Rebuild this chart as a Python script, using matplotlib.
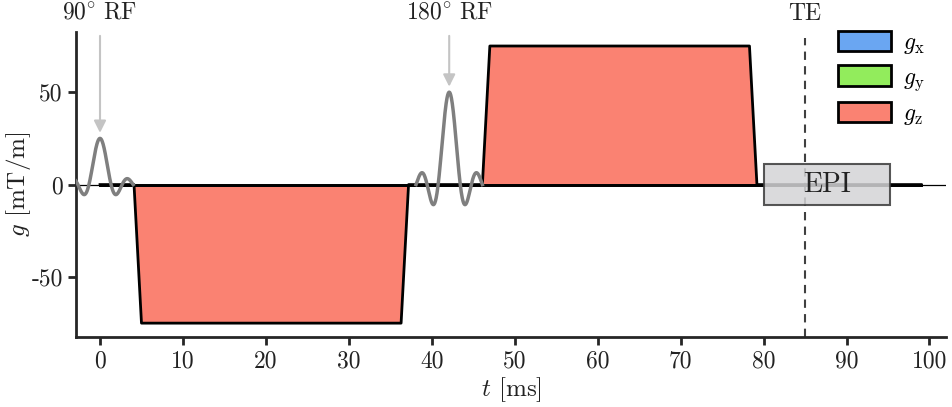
import matplotlib
matplotlib.use("Agg")
import matplotlib.pyplot as plt
from matplotlib.patches import Patch, Rectangle
import numpy as np

plt.rcParams["font.family"] = "cmr10"
plt.rcParams["mathtext.fontset"] = "cm"
plt.rcParams["axes.unicode_minus"] = False
plt.rcParams["axes.formatter.use_mathtext"] = False

# gradient waveform (ms, mT/m)
t_grad = [0, 4.1, 5.0, 36.3, 37.2, 46.1, 47.0, 78.3, 79.2, 99.0]
gx = [0, 0, 0, 0, 0, 0, 0, 0, 0, 0]
gy = [0, 0, 0, 0, 0, 0, 0, 0, 0, 0]
gz = [0, 0, -75, -75, 0, 0, 75, 75, 0, 0]

# RF pulses: centre (ms), peak amplitude, half duration (ms)
rf_centres = [0.0, 42.1]
rf_amps = [25, 50]
rf_half = 4.0
rf_labels = [r"$\mathrm{90^{\circ}\ RF}$", r"$\mathrm{180^{\circ}\ RF}$"]

TE = 85
epi_start, epi_end = 80, 95.2

COLORS = {"x": "#6aa6f2", "y": "#92ec5c", "z": "#fa8272"}
INK = "#262626"
TXT = "#222222"

fig = plt.figure(figsize=(9.53, 4.07), dpi=100)
ax = fig.add_axes([0.0797, 0.172, 0.913, 0.749])

ax.axhline(0, color="black", lw=0.9, zorder=1)

for g, key in [(gx, "x"), (gy, "y"), (gz, "z")]:
    ax.fill_between(t_grad, g, 0, color=COLORS[key], lw=0, zorder=2)
    ax.plot(t_grad, g, color="black", lw=2, zorder=3)

# sinc RF pulses, three lobes either side
for c, a, lab in zip(rf_centres, rf_amps, rf_labels):
    tt = np.linspace(c - rf_half, c + rf_half, 400)
    ax.plot(tt, a * np.sinc((tt - c) / (rf_half / 3)), color="#7f7f7f", lw=2.5, zorder=4)
    ax.annotate(lab, xy=(c, a + 3), xytext=(c, 86.5), ha="center", va="bottom",
                fontsize=17, color=TXT, annotation_clip=False,
                arrowprops=dict(arrowstyle="-|>", color="#c4c4c4", lw=1.5,
                                mutation_scale=18, shrinkA=6, shrinkB=0))

ax.axvline(TE, color="#404040", lw=1.5, ls=(0, (4, 3)), ymax=0.98, zorder=1)
ax.text(TE, 86.5, "TE", ha="center", va="bottom", fontsize=17, color=TXT)

ax.add_patch(Rectangle((epi_start, -11), epi_end - epi_start, 22, facecolor="#d4d4d6",
                       edgecolor="#3a3a3a", lw=1.5, alpha=0.85, zorder=5))
ax.text((epi_start + epi_end) / 2, 0, "EPI", ha="center", va="center",
        fontsize=20, color=TXT, zorder=6)

ax.set_xlim(-2.9, 102)
ax.set_ylim(-82.5, 82.5)
ax.set_xticks(range(0, 101, 10))
ax.set_yticks([-50, 0, 50])
ax.set_xlabel("$t$ [ms]", fontsize=18, color=TXT, labelpad=2)
ax.set_ylabel("$g$ [mT/m]", fontsize=18, color=TXT, va="center")
ax.yaxis.set_label_coords(-0.066, 0.5)
ax.tick_params(labelsize=17, width=2, length=6, color=INK, labelcolor=TXT)
for s in ["top", "right"]:
    ax.spines[s].set_visible(False)
for s in ["left", "bottom"]:
    ax.spines[s].set_linewidth(2)
    ax.spines[s].set_color(INK)

handles = [Patch(facecolor=COLORS[k], edgecolor="black", lw=2) for k in "xyz"]
ax.legend(handles, [r"$g_\mathrm{x}$", r"$g_\mathrm{y}$", r"$g_\mathrm{z}$"],
          loc="upper right", bbox_to_anchor=(1.0, 1.075), frameon=False, fontsize=17,
          handlelength=2.25, handleheight=0.95, labelspacing=0.4, handletextpad=0.5)

fig.savefig("out.png", dpi=100, facecolor="white")
